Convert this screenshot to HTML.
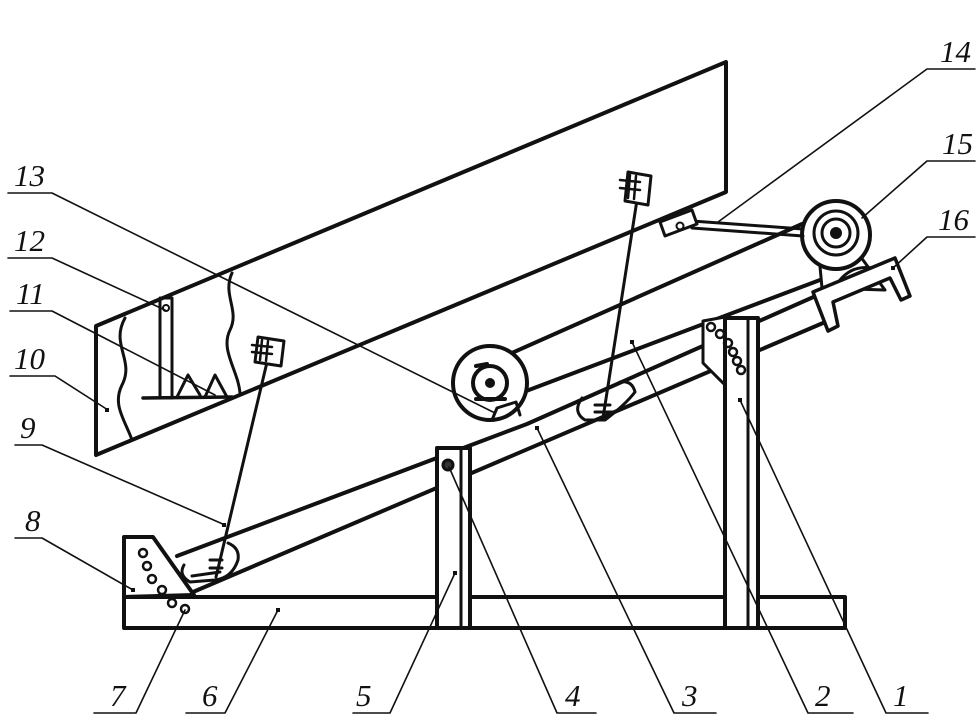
<!DOCTYPE html>
<html><head><meta charset="utf-8"><style>
html,body{margin:0;padding:0;background:#fff;}
svg{display:block;}
text{font-family:"Liberation Serif",serif;font-style:italic;font-size:31px;fill:#111;}
</style></head><body>
<svg width="980" height="724" viewBox="0 0 980 724" xmlns="http://www.w3.org/2000/svg">
<g fill="none" stroke="#111" stroke-linecap="round" stroke-linejoin="round">
<!-- screen box 10 -->
<polygon points="96,326 726,62 726,192 96,455" stroke-width="4" fill="#fff"/>
<path d="M125,318 C110,345 135,360 122,385 C112,405 125,420 132,440" stroke-width="3"/>
<path d="M232,273 C222,295 240,310 230,330 C220,350 238,370 240,393" stroke-width="3"/>
<rect x="160" y="298" width="12" height="100" stroke-width="3"/>
<circle cx="166" cy="308" r="3" stroke-width="2"/>
<line x1="143" y1="398" x2="232" y2="397" stroke-width="3.5"/>
<polyline points="177,397 188,375 200,395" stroke-width="3"/>
<polyline points="205,397 215,375 227,397" stroke-width="3"/>

<!-- base frame 6 -->
<rect x="124" y="597" width="721" height="31" stroke-width="4" fill="#fff"/>

<!-- beam 3 -->
<polyline points="177,556 527,424 890,263" stroke-width="4"/>
<line x1="193" y1="592" x2="823" y2="323" stroke-width="4"/>

<!-- belt -->
<line x1="487" y1="364" x2="802" y2="224" stroke-width="4"/>
<line x1="505" y1="399" x2="820" y2="280" stroke-width="4"/>

<!-- pulley -->
<circle cx="490" cy="383" r="37" stroke-width="4" fill="#fff"/>
<circle cx="490" cy="383" r="17" stroke-width="4"/>
<circle cx="490" cy="383" r="5" fill="#111" stroke="none"/>
<path d="M476,366 L487,364 M476,399 L505,399" stroke-width="4"/>
<polyline points="492,420 497,408 516,402 520,415" stroke-width="3"/>

<!-- motor 15 -->
<polygon points="818,245 852,245 885,290 822,288" stroke-width="3" fill="#fff"/>
<path d="M840,280 Q855,262 880,270" stroke-width="3"/>
<circle cx="836" cy="235" r="34" stroke-width="4" fill="#fff"/>
<circle cx="836" cy="233" r="22" stroke-width="3"/>
<circle cx="836" cy="233" r="14" stroke-width="3"/>
<circle cx="836" cy="233" r="6" fill="#111" stroke="none"/>

<!-- connecting rod 14 -->
<line x1="692" y1="221" x2="803" y2="229" stroke-width="3"/>
<line x1="692" y1="228" x2="803" y2="236" stroke-width="3"/>
<polygon points="660,222 692,210 697,224 665,236" stroke-width="3" fill="#fff"/>
<circle cx="680" cy="226" r="3.5" stroke-width="2"/>

<!-- channel 16 -->
<polygon points="813,292 895,258 910,296 901,300 890,278 833,302 838,326 828,331 816,300" stroke-width="3.5" fill="#fff"/>

<!-- post 1 -->
<polygon points="703,321 725,317 725,385 703,363" stroke-width="3" fill="#fff"/>
<rect x="725" y="318" width="33" height="310" stroke-width="4" fill="#fff"/>
<line x1="748" y1="318" x2="748" y2="628" stroke-width="3"/>
<g stroke-width="2.5">
<circle cx="711" cy="327" r="4"/><circle cx="720" cy="334" r="4"/><circle cx="728" cy="343" r="4"/><circle cx="733" cy="352" r="4"/><circle cx="737" cy="361" r="4"/><circle cx="741" cy="370" r="4"/>
</g>

<!-- post 5 -->
<rect x="437" y="448" width="33" height="180" stroke-width="4" fill="#fff"/>
<line x1="461" y1="448" x2="461" y2="628" stroke-width="3"/>
<circle cx="448" cy="465" r="5" stroke-width="3" fill="#333"/>

<!-- gusset 8 -->
<polygon points="124,537 153,537 194,595 124,597" stroke-width="4" fill="#fff"/>
<g stroke-width="2.5">
<circle cx="143" cy="553" r="4"/><circle cx="147" cy="566" r="4"/><circle cx="152" cy="579" r="4"/><circle cx="162" cy="590" r="4"/><circle cx="172" cy="603" r="4"/><circle cx="185" cy="609" r="4"/>
</g>

<!-- rods and sensors -->
<line x1="268" y1="358" x2="216" y2="577" stroke-width="3"/>
<line x1="637" y1="200" x2="603" y2="418" stroke-width="3"/>
<polygon points="258,337 284,341 281,366 255,362" stroke-width="3" fill="#fff"/>
<path d="M252,345 L272,347 M252,352 L272,354 M262,340 L260,360 M268,341 L266,361" stroke-width="2.5"/>
<polygon points="628,172 651,176 648,205 625,201" stroke-width="3" fill="#fff"/>
<path d="M620,180 L640,182 M620,188 L640,190 M630,175 L628,198 M636,176 L634,199" stroke-width="2.5"/>

<!-- shoes -->
<path d="M184,565 Q178,575 190,582 L215,580 Q232,578 238,560 Q240,548 228,543" stroke-width="3"/>
<path d="M192,576 L220,572 M210,560 L222,560 M210,568 L222,568" stroke-width="3"/>
<path d="M582,398 Q572,412 585,420 L605,420 Q625,405 635,392 Q632,380 620,382" stroke-width="3"/>
<path d="M595,405 L610,405 M595,412 L612,412" stroke-width="3"/>

<!-- leaders (on top) -->
<g stroke-width="1.6">
<polyline points="8,193 52,193 495,413"/>
<polyline points="8,258 52,258 165,310"/>
<polyline points="10,311 52,311 215,395"/>
<polyline points="10,376 55,376 108,410"/>
<polyline points="15,445 42,445 225,525"/>
<polyline points="15,538 42,538 133,590"/>
<polyline points="975,69 927,69 718,222"/>
<polyline points="975,161 927,161 862,218"/>
<polyline points="975,237 927,237 893,268"/>
<polyline points="94,713 136,713 185,610"/>
<polyline points="186,713 225,713 278,610"/>
<polyline points="353,713 390,713 455,573"/>
<polyline points="596,713 557,713 449,467"/>
<polyline points="716,713 674,713 537,428"/>
<polyline points="853,713 808,713 632,342"/>
<polyline points="928,713 886,713 740,400"/>
</g>

<!-- leader end dots -->
<g fill="#111" stroke="none">
<rect x="105" y="408" width="4" height="4"/><rect x="131" y="588" width="4" height="4"/>
<rect x="276" y="608" width="4" height="4"/><rect x="453" y="571" width="4" height="4"/>
<rect x="535" y="426" width="4" height="4"/><rect x="630" y="340" width="4" height="4"/>
<rect x="738" y="398" width="4" height="4"/><rect x="891" y="266" width="4" height="4"/>
<rect x="222" y="523" width="4" height="4"/>
</g>
</g>

<!-- labels -->
<text x="940" y="62">14</text>
<text x="942" y="154">15</text>
<text x="938" y="230">16</text>
<text x="14" y="186">13</text>
<text x="14" y="251">12</text>
<text x="16" y="304">11</text>
<text x="14" y="369">10</text>
<text x="20" y="438">9</text>
<text x="25" y="531">8</text>
<text x="110" y="706">7</text>
<text x="202" y="706">6</text>
<text x="356" y="706">5</text>
<text x="565" y="706">4</text>
<text x="682" y="706">3</text>
<text x="815" y="706">2</text>
<text x="893" y="706">1</text>
</svg>
</body></html>
